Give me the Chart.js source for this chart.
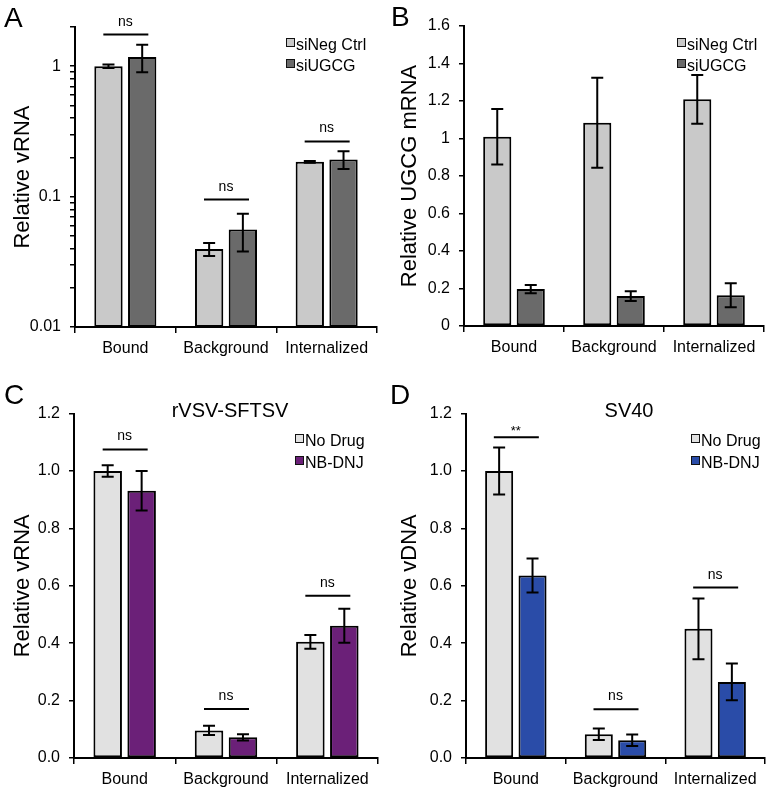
<!DOCTYPE html>
<html>
<head>
<meta charset="utf-8">
<script src="https://cdn.jsdelivr.net/npm/chart.js@4.4.0/dist/chart.umd.min.js"></script>
<style>
    body { margin: 0; background: #fff; }
    #fig { position: relative; width: 774px; height: 791px; font-family: "Liberation Sans", Arial, sans-serif; }
    .panel { position: absolute; }
    .letter { position: absolute; font-size: 28px; line-height: 1; color: #000; }
</style>
</head>
<body>
<div id="fig">
    <div class="panel" style="left:0;top:0"><canvas id="chartA" width="387" height="395"></canvas></div>
    <div class="panel" style="left:387px;top:0"><canvas id="chartB" width="387" height="395"></canvas></div>
    <div class="panel" style="left:0;top:395px"><canvas id="chartC" width="387" height="396"></canvas></div>
    <div class="panel" style="left:387px;top:395px"><canvas id="chartD" width="387" height="396"></canvas></div>
    <div class="letter" style="left:4px;top:4px">A</div>
    <div class="letter" style="left:391px;top:3px">B</div>
    <div class="letter" style="left:4px;top:381px">C</div>
    <div class="letter" style="left:390px;top:381px">D</div>
</div>
<script>
/* Figure: vRNA / mRNA binding panels A-D */

// Categories shared by every panel
const categories = ['Bound', 'Background', 'Internalized'];

// Panel A - relative vRNA, log axis
const aNames = ['siNeg Ctrl', 'siUGCG'];
const aCtrl = [1.0, 0.0396, 0.185];
const aCtrlErr = [0.03, 0.0045, 0.003];
const aUgcg = [1.18, 0.056, 0.193];
const aUgcgErr = [0.28, 0.018, 0.03];
const aSigLevel = [1.75, 0.095, 0.265];
const aSigText = ['ns', 'ns', 'ns'];
const aDecades = [0.01, 0.1, 1];
const aMax = 2;

// Panel B - relative UGCG mRNA
const bNames = ['siNeg Ctrl', 'siUGCG'];
const bCtrl = [1.01, 1.084, 1.209];
const bCtrlErr = [0.148, 0.24, 0.13];
const bUgcg = [0.197, 0.16, 0.164];
const bUgcgErr = [0.022, 0.026, 0.064];
const bTicks = [0, 0.2, 0.4, 0.6, 0.8, 1, 1.2, 1.4, 1.6];

// Panel C - rVSV-SFTSV
const cNames = ['No Drug', 'NB-DNJ'];
const cNoDrug = [1.0, 0.096, 0.405];
const cNoDrugErr = [0.02, 0.016, 0.024];
const cNbdnj = [0.931, 0.072, 0.461];
const cNbdnjErr = [0.069, 0.011, 0.059];
const cSigLevel = [1.075, 0.171, 0.565];
const cSigText = ['ns', 'ns', 'ns'];

// Panel D - SV40
const dNames = ['No Drug', 'NB-DNJ'];
const dNoDrug = [1.0, 0.083, 0.45];
const dNoDrugErr = [0.082, 0.02, 0.106];
const dNbdnj = [0.636, 0.062, 0.265];
const dNbdnjErr = [0.059, 0.02, 0.064];
const dSigLevel = [1.118, 0.17, 0.594];
const dSigText = ['**', 'ns', 'ns'];

const cdTicks = [0, 0.2, 0.4, 0.6, 0.8, 1.0, 1.2];

const FONT = '"Liberation Sans", Arial, sans-serif';
Chart.defaults.font.family = FONT;
Chart.defaults.color = '#000';

// log ticks: 1..9 in every decade, plus the top value
function logTicks(decades, max) {
    const out = [];
    decades.forEach(d => {
        for (let m = 1; m <= 9; m++) {
            const v = parseFloat((m * d).toPrecision(3));
            if (v <= max) out.push(v);
        }
    });
    if (out[out.length - 1] !== max) out.push(max);
    return out;
}

// Draws error bars, significance lines, legend and panel title
function extrasPlugin(cfg) {
    return {
        id: 'extras',
        afterDatasetsDraw(chart) {
            const ctx = chart.ctx;
            const xs = chart.scales.x;
            const ys = chart.scales.y;
            ctx.save();
            ctx.strokeStyle = '#000';
            ctx.lineWidth = 2;

            // error bars
            chart.data.datasets.forEach((ds, i) => {
                const meta = chart.getDatasetMeta(i);
                meta.data.forEach((bar, j) => {
                    const hi = ys.getPixelForValue(ds.data[j] + ds.errors[j]);
                    const lo = ys.getPixelForValue(ds.data[j] - ds.errors[j]);
                    ctx.beginPath();
                    ctx.moveTo(bar.x, hi); ctx.lineTo(bar.x, lo);
                    ctx.moveTo(bar.x - 6, hi); ctx.lineTo(bar.x + 6, hi);
                    ctx.moveTo(bar.x - 6, lo); ctx.lineTo(bar.x + 6, lo);
                    ctx.stroke();
                });
            });

            // significance marks
            if (cfg.sigLevel) {
                cfg.sigLevel.forEach((lvl, j) => {
                    const cx = xs.getPixelForValue(j);
                    const yy = ys.getPixelForValue(lvl);
                    ctx.beginPath();
                    ctx.moveTo(cx - 22, yy); ctx.lineTo(cx + 23, yy);
                    ctx.stroke();
                    const txt = cfg.sigText[j];
                    ctx.fillStyle = '#000';
                    ctx.textAlign = 'center';
                    ctx.textBaseline = 'alphabetic';
                    if (txt === '**') {
                        ctx.font = '13px ' + FONT;
                        ctx.fillText(txt, cx, yy - 2);
                    } else {
                        ctx.font = '14px ' + FONT;
                        ctx.fillText(txt, cx, yy - 9);
                    }
                });
            }

            // legend
            ctx.font = '16px ' + FONT;
            ctx.textAlign = 'left';
            ctx.textBaseline = 'alphabetic';
            chart.data.datasets.forEach((ds, i) => {
                const base = cfg.legendY + i * cfg.legendStep;
                ctx.fillStyle = ds.backgroundColor;
                ctx.fillRect(cfg.legendX, base - 12, 9, 9);
                ctx.lineWidth = 1;
                ctx.strokeStyle = '#111';
                ctx.strokeRect(cfg.legendX + 0.5, base - 11.5, 8, 8);
                ctx.fillStyle = '#000';
                ctx.fillText(ds.label, cfg.legendX + 10, base);
            });

            // panel title
            if (cfg.title) {
                ctx.font = '20px ' + FONT;
                ctx.textAlign = 'center';
                ctx.fillText(cfg.title, cfg.titleX, 22);
            }
            ctx.restore();
        }
    };
}

function makePanel(cfg) {
    const area = cfg.area;
    const yScale = {
        type: cfg.log ? 'logarithmic' : 'linear',
        min: cfg.min,
        max: cfg.max,
        afterBuildTicks: s => { s.ticks = cfg.ticks.map(v => ({ value: v })); },
        afterFit: s => { s.width = area.left; },
        grid: { drawOnChartArea: false, drawTicks: true, tickLength: 5, color: '#000', lineWidth: 1.5 },
        border: { color: '#000', width: 2 },
        ticks: {
            autoSkip: false,
            padding: 9,
            font: { size: 16 },
            callback: cfg.tickFormat
        },
        title: {
            display: true,
            text: cfg.yTitle,
            font: { size: 22 },
            padding: { top: 10, bottom: 0 }
        }
    };

    return new Chart(document.getElementById(cfg.canvas), {
        type: 'bar',
        data: {
            labels: categories,
            datasets: cfg.series.map(s => ({
                label: s.name,
                data: s.values,
                errors: s.errors,
                backgroundColor: s.color,
                borderColor: '#000',
                borderWidth: 2,
                borderSkipped: false,
                categoryPercentage: 0.67,
                barPercentage: 0.84
            }))
        },
        options: {
            responsive: false,
            animation: false,
            layout: { padding: { top: area.top, right: cfg.width - area.right, bottom: 0, left: 0 } },
            plugins: { legend: { display: false }, tooltip: { enabled: false } },
            scales: {
                x: {
                    afterFit: s => { s.height = cfg.height - area.bottom; },
                    grid: { drawOnChartArea: false, drawTicks: true, tickLength: 6, color: '#000', lineWidth: 1.5, offset: true },
                    border: { color: '#000', width: 2 },
                    ticks: { padding: 6, font: { size: 16 }, maxRotation: 0, autoSkip: false }
                },
                y: yScale
            }
        },
        plugins: [extrasPlugin(cfg)]
    });
}

const decadeLabel = v => (aDecades.includes(v) ? String(v) : '');

makePanel({
    canvas: 'chartA', width: 387, height: 395,
    area: { left: 75, top: 27, right: 377, bottom: 327 },
    log: true, min: aDecades[0], max: aMax,
    ticks: logTicks(aDecades, aMax), tickFormat: decadeLabel,
    yTitle: 'Relative vRNA',
    series: [
        { name: aNames[0], values: aCtrl, errors: aCtrlErr, color: '#c9c9c9' },
        { name: aNames[1], values: aUgcg, errors: aUgcgErr, color: '#6a6a6a' }
    ],
    sigLevel: aSigLevel, sigText: aSigText,
    legendX: 286, legendY: 50, legendStep: 21
});

makePanel({
    canvas: 'chartB', width: 387, height: 395,
    area: { left: 77, top: 26, right: 377, bottom: 326 },
    log: false, min: bTicks[0], max: bTicks[bTicks.length - 1],
    ticks: bTicks, tickFormat: v => String(v),
    yTitle: 'Relative UGCG mRNA',
    series: [
        { name: bNames[0], values: bCtrl, errors: bCtrlErr, color: '#c9c9c9' },
        { name: bNames[1], values: bUgcg, errors: bUgcgErr, color: '#6a6a6a' }
    ],
    legendX: 290, legendY: 50, legendStep: 21
});

makePanel({
    canvas: 'chartC', width: 387, height: 396,
    area: { left: 74, top: 17, right: 378, bottom: 363 },
    log: false, min: cdTicks[0], max: cdTicks[cdTicks.length - 1],
    ticks: cdTicks, tickFormat: v => v.toFixed(1),
    yTitle: 'Relative vRNA',
    series: [
        { name: cNames[0], values: cNoDrug, errors: cNoDrugErr, color: '#e1e1e1' },
        { name: cNames[1], values: cNbdnj, errors: cNbdnjErr, color: '#6b2078' }
    ],
    sigLevel: cSigLevel, sigText: cSigText,
    legendX: 295, legendY: 51, legendStep: 22,
    title: 'rVSV-SFTSV', titleX: 230
});

makePanel({
    canvas: 'chartD', width: 387, height: 396,
    area: { left: 79, top: 17, right: 378, bottom: 363 },
    log: false, min: cdTicks[0], max: cdTicks[cdTicks.length - 1],
    ticks: cdTicks, tickFormat: v => v.toFixed(1),
    yTitle: 'Relative vDNA',
    series: [
        { name: dNames[0], values: dNoDrug, errors: dNoDrugErr, color: '#e1e1e1' },
        { name: dNames[1], values: dNbdnj, errors: dNbdnjErr, color: '#2a4ca8' }
    ],
    sigLevel: dSigLevel, sigText: dSigText,
    legendX: 304, legendY: 51, legendStep: 22,
    title: 'SV40', titleX: 242
});
</script>
</body>
</html>
